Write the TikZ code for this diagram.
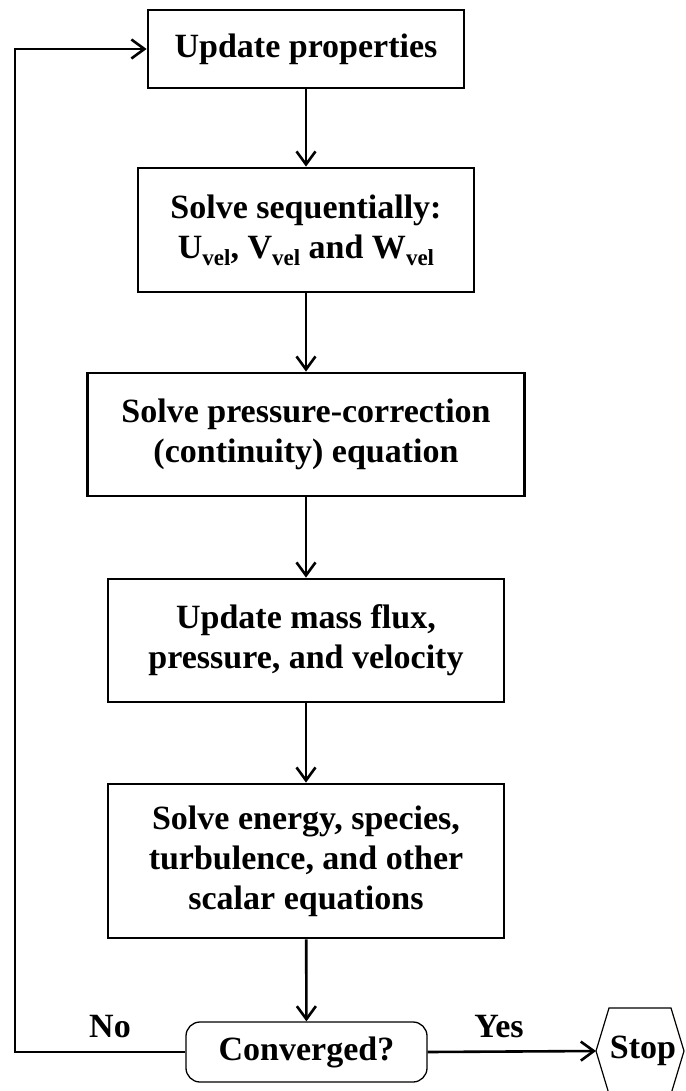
\documentclass[tikz,border=0pt]{standalone}
\usepackage{fontspec}
\setmainfont{Liberation Serif}
\usetikzlibrary{arrows.meta}
\newcommand{\velsub}{\raisebox{-7pt}{\fontsize{23}{23}\selectfont vel}}
\begin{document}
\begin{tikzpicture}[x=1pt,y=-1pt,
  font=\fontsize{34}{40}\selectfont\bfseries,
  box/.style={draw, line width=2.8pt, align=center, inner sep=0pt},
  thinbox/.style={draw, line width=1.3pt, align=center, inner sep=0pt, rounded corners=14pt},
  arr/.style={line width=2.6pt, -{Straight Barb[length=13pt,width=19pt,line width=2.6pt]}},
  lbl/.style={inner sep=0pt}]
\fill[white] (0,0) rectangle (685,1091);
\clip (0,0) rectangle (685,1091);
\node[box, minimum width=316pt, minimum height=78pt] (b1) at (306,49) {Update properties};
\node[box, minimum width=336pt, minimum height=124pt] (b2) at (306,230) {Solve sequentially:\\U\velsub, V\velsub{} and W\velsub};
\node[box, minimum width=437pt, minimum height=123pt] (b3) at (306,434.5) {Solve pressure-correction\\(continuity) equation};
\node[box, minimum width=396pt, minimum height=123pt] (b4) at (306,640.5) {Update mass flux,\\pressure, and velocity};
\node[box, minimum width=396pt, minimum height=154pt] (b5) at (306,861) {Solve energy, species,\\turbulence, and other\\scalar equations};
\node[thinbox, minimum width=241pt, minimum height=60pt] (conv) at (306.5,1052) {Converged?};
\draw[line width=1.2pt] (596,1051) -- (609,1008) -- (671,1008) -- (684,1051) -- (671,1094) -- (609,1094) -- cycle;
\coordinate (stopw) at (596,1051);
\node[lbl] (stop) at (643,1051) {Stop};
\coordinate (lc) at (15,1052);
\node[lbl] (no) at (110,1027) {No};
\node[lbl] (yes) at (499,1027) {Yes};
\draw[arr] (b1) -- (b2);
\draw[arr] (b2) -- (b3);
\draw[arr] (b3) -- (b4);
\draw[arr] (b4) -- (b5);
\draw[arr] (b5) -- (conv);
\draw[arr] (conv.east) -- (stopw);
\draw[arr] (conv.west) -- (lc) |- (b1.west);
\end{tikzpicture}
\end{document}
